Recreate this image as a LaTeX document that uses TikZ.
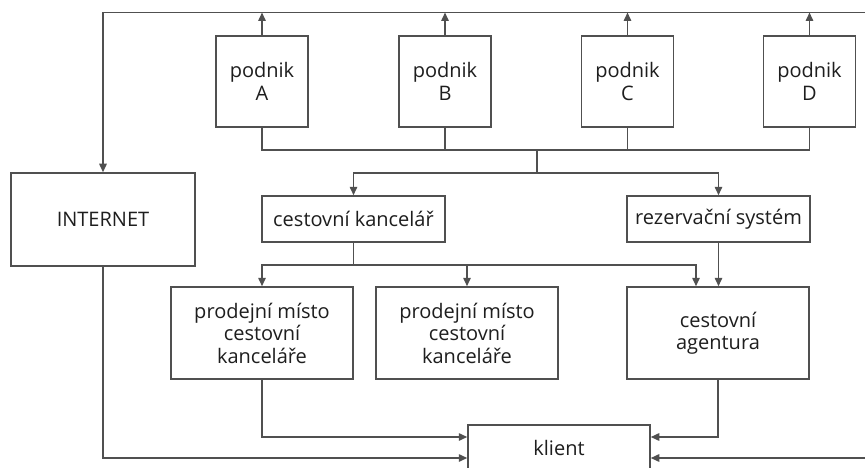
\documentclass[tikz,border=0pt]{standalone}
\usepackage{fontspec}
\setmainfont{Open Sans}
\usetikzlibrary{arrows.meta,calc}
\definecolor{ln}{HTML}{505050}
\definecolor{tx}{HTML}{1E1E1E}
\begin{document}
\begin{tikzpicture}[x=1pt,y=-1pt,
  box/.style={draw=ln,line width=1.5pt,fill=white,align=center,text=tx,inner sep=0pt,
    font=\fontsize{20}{22.5}\selectfont},
  wire/.style={draw=ln,line width=1.5pt},
  arr/.style={wire,-{Triangle[length=8.5pt,width=7.5pt]}}]
\useasboundingbox (0,0) rectangle (865,468);
\clip (0,0) rectangle (865,468);
% nodes
\node[box,minimum width=184pt,minimum height=93pt] (inet) at (103,219.5) {INTERNET};
\node[box,minimum width=92pt,minimum height=91pt] (A) at (262,81.5) {podnik\\A};
\node[box,minimum width=92pt,minimum height=91pt] (B) at (445,81.5) {podnik\\B};
\node[box,minimum width=92pt,minimum height=91pt] (C) at (627.5,81.5) {podnik\\C};
\node[box,minimum width=92pt,minimum height=91pt] (D) at (809.5,81.5) {podnik\\D};
\node[box,minimum width=183pt,minimum height=46pt] (ck) at (353.5,219) {cestovní kancelář};
\node[box,minimum width=183pt,minimum height=46pt] (rs) at (718.5,219) {rezervační systém};
\node[box,minimum width=182pt,minimum height=92pt] (p1) at (262,333) {prodejní místo\\cestovní\\kanceláře};
\node[box,minimum width=182pt,minimum height=92pt] (p2) at (467,333) {prodejní místo\\cestovní\\kanceláře};
\node[box,minimum width=182pt,minimum height=92pt] (ag) at (718,333) {cestovní\\agentura};
\node[box,minimum width=182pt,minimum height=46pt] (kl) at (559,448) {klient};
% coordinates
\coordinate (topL) at (103,12.5);
\coordinate (topR) at (880,12.5);
\coordinate (botR) at (880,458);
\coordinate (busL) at (262,150);
\coordinate (drop) at (537,150);
\coordinate (split) at (537,173);
\coordinate (split2) at (353.5,265);
% top bus
\draw[arr] (topR) -- (topL) -- (inet.north);
\foreach \n in {A,B,C,D} \draw[arr] (\n.north) -- (\n.north |- topL);
% bottom bus of podniks
\draw[wire] (A.south) -- (A.south |- busL) -- (D.south |- busL) -- (D.south);
\draw[wire] (B.south) -- (B.south |- busL);
\draw[wire] (C.south) -- (C.south |- busL);
\draw[wire] (drop) -- (split);
\draw[arr] (split) -| (ck.north);
\draw[arr] (split) -| (rs.north);
% from cestovni kancelar
\draw[wire] (ck.south) -- (split2);
\draw[arr] (split2) -| (p1.north);
\draw[arr] (split2) -| (p2.north);
\draw[arr] (split2) -| ([xshift=-22pt]ag.north);
\draw[arr] (rs.south) -- (rs.south |- ag.north);
% to klient
\draw[arr] (p1.south) |- ([yshift=11pt]kl.west);
\draw[arr] (inet.south) |- ([yshift=-10pt]kl.west);
\draw[arr] (ag.south) |- ([yshift=11pt]kl.east);
\draw[arr] (topR) -- (botR) -- ([yshift=-10pt]kl.east);
\end{tikzpicture}
\end{document}
